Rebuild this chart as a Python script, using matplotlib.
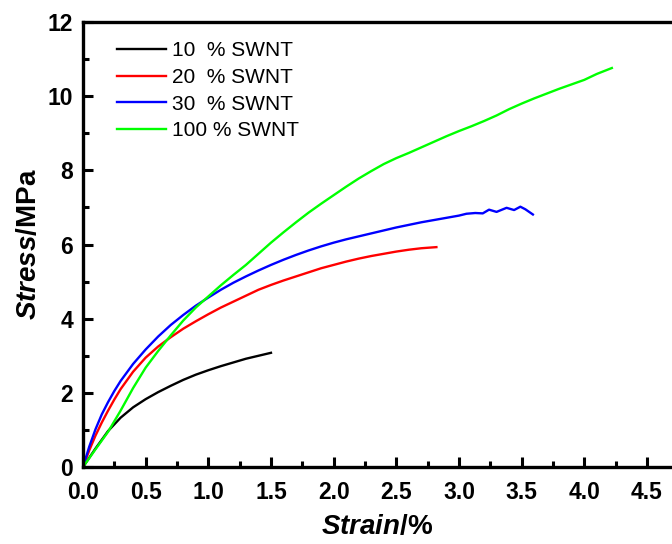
import matplotlib
matplotlib.use('Agg')
import matplotlib.pyplot as plt
from matplotlib.ticker import MultipleLocator

plt.rcParams['font.family'] = ['Liberation Sans', 'DejaVu Sans']
plt.rcParams['mathtext.fontset'] = 'custom'
plt.rcParams['mathtext.bfit'] = 'Liberation Sans:italic:bold'
plt.rcParams['mathtext.rm'] = 'Liberation Sans'

# strain (%) / stress (MPa)
x10 = [0, 0.1, 0.2, 0.3, 0.4, 0.5, 0.6, 0.7, 0.8, 0.9, 1.0, 1.1, 1.2, 1.3, 1.4, 1.5]
y10 = [0, 0.50, 0.97, 1.33, 1.61, 1.83, 2.02, 2.19, 2.35, 2.49, 2.61, 2.72, 2.82, 2.92, 3.00, 3.08]

x20 = [0, 0.05, 0.1, 0.15, 0.2, 0.25, 0.3, 0.4, 0.5, 0.6, 0.7, 0.8, 0.9, 1.0, 1.1, 1.2,
       1.3, 1.4, 1.5, 1.6, 1.7, 1.8, 1.9, 2.0, 2.1, 2.2, 2.3, 2.4, 2.5, 2.6, 2.7, 2.82]
y20 = [0, 0.45, 0.85, 1.20, 1.52, 1.82, 2.10, 2.57, 2.95, 3.25, 3.50, 3.73, 3.93, 4.12,
       4.30, 4.46, 4.62, 4.78, 4.91, 5.03, 5.14, 5.25, 5.36, 5.45, 5.54, 5.62, 5.69, 5.75,
       5.81, 5.86, 5.90, 5.93]

x30 = [0, 0.05, 0.1, 0.15, 0.2, 0.25, 0.3, 0.4, 0.5, 0.6, 0.7, 0.8, 0.9, 1.0, 1.1, 1.2,
       1.3, 1.4, 1.5, 1.6, 1.7, 1.8, 1.9, 2.0, 2.1, 2.2, 2.3, 2.4, 2.5, 2.6, 2.7, 2.8,
       2.9, 3.0, 3.06, 3.13, 3.19, 3.24, 3.30, 3.38, 3.44, 3.49, 3.53, 3.59]
y30 = [0, 0.55, 1.02, 1.42, 1.75, 2.05, 2.32, 2.78, 3.17, 3.52, 3.83, 4.10, 4.35, 4.57,
       4.78, 4.97, 5.14, 5.30, 5.45, 5.59, 5.72, 5.84, 5.95, 6.05, 6.14, 6.22, 6.30, 6.38,
       6.46, 6.53, 6.60, 6.66, 6.72, 6.78, 6.83, 6.85, 6.84, 6.94, 6.88, 6.99, 6.93, 7.02,
       6.95, 6.81]

x100 = [0, 0.1, 0.2, 0.3, 0.4, 0.5, 0.6, 0.7, 0.8, 0.9, 1.0, 1.1, 1.2, 1.3, 1.4, 1.5,
        1.6, 1.7, 1.8, 1.9, 2.0, 2.1, 2.2, 2.3, 2.4, 2.5, 2.6, 2.7, 2.8, 2.9, 3.0, 3.1,
        3.2, 3.3, 3.4, 3.5, 3.6, 3.7, 3.8, 3.9, 4.0, 4.1, 4.22]
y100 = [0, 0.48, 0.95, 1.52, 2.13, 2.68, 3.13, 3.55, 3.95, 4.30, 4.60, 4.90, 5.18, 5.45,
        5.75, 6.05, 6.33, 6.60, 6.86, 7.10, 7.33, 7.56, 7.78, 7.98, 8.17, 8.33, 8.47, 8.62,
        8.77, 8.92, 9.06, 9.19, 9.33, 9.48, 9.65, 9.80, 9.94, 10.07, 10.20, 10.32, 10.44,
        10.60, 10.76]

labels = ['10  % SWNT', '20  % SWNT', '30  % SWNT', '100 % SWNT']
colors = ['#000000', '#ff0000', '#0000ff', '#00ff00']

fig = plt.figure(figsize=(6.72, 5.44), dpi=100)
ax = fig.add_axes([0.1235, 0.1415, 0.8765, 0.818])

for xs, ys, lab, c in zip([x10, x20, x30, x100], [y10, y20, y30, y100], labels, colors):
    ax.plot(xs, ys, color=c, lw=1.7, label=lab)

ax.set_xlim(0, 4.70)
ax.set_ylim(0, 12)
ax.xaxis.set_major_locator(MultipleLocator(0.5))
ax.xaxis.set_minor_locator(MultipleLocator(0.25))
ax.yaxis.set_major_locator(MultipleLocator(2))
ax.yaxis.set_minor_locator(MultipleLocator(1))
ax.tick_params(which='both', direction='in', width=2.2, top=False, right=False)
ax.tick_params(which='major', length=7.5, labelsize=16.5)
ax.tick_params(axis='x', which='major', pad=10)
ax.tick_params(axis='y', which='major', pad=7)
ax.tick_params(which='minor', length=4)
for lab in ax.get_xticklabels() + ax.get_yticklabels():
    lab.set_fontweight('bold')

for s in ['left', 'bottom', 'top']:
    ax.spines[s].set_linewidth(2.4)
ax.spines['right'].set_visible(False)

ax.set_xlabel(r'$\mathbfit{Strain}$/%', fontsize=20, fontweight='bold', labelpad=7)
ax.set_ylabel(r'$\mathbfit{Stress}$/MPa', fontsize=20, fontweight='bold', labelpad=4)

ax.legend(loc='upper left', frameon=False, fontsize=15, handlelength=2.35,
          handletextpad=0.3, labelspacing=0.37, borderaxespad=0, borderpad=0,
          bbox_to_anchor=(0.058, 0.957))

fig.savefig('out.png', dpi=100)
